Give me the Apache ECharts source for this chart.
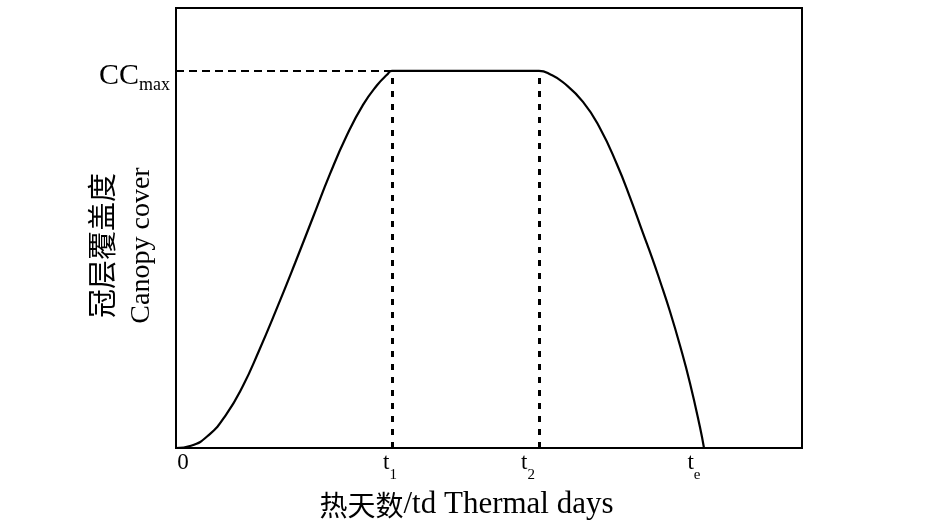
<!DOCTYPE html>
<html><head><meta charset="utf-8">
<script src="https://cdn.jsdelivr.net/npm/echarts@6/dist/echarts.min.js"></script>
<style>html,body{margin:0;padding:0;background:#fff}#c{width:945px;height:531px}</style>
</head><body><div id="c"></div>
<script>
// Thermal days (x) and canopy cover as a fraction of CCmax (y)
const thermalDays = [0, 15, 33, 50, 67, 83, 100, 119, 137, 154, 171, 187, 201, 211, 216, 290, 363, 375, 387, 407, 424, 441, 454, 467, 476, 484, 494, 504, 514, 524, 528];
const canopyCover = [0, 0.006, 0.035, 0.088, 0.165, 0.258, 0.365, 0.490, 0.612, 0.727, 0.830, 0.910, 0.962, 0.990, 1, 1, 1, 0.990, 0.970, 0.918, 0.848, 0.752, 0.665, 0.570, 0.505, 0.443, 0.362, 0.272, 0.172, 0.055, 0];
const keyTimes = [216, 363, 528];           // t1, t2, te
const ccMax = 1;
const xMax = 626;
const yMax = 1.167;
const xTickLabels = ['{m|0}', '{m|t}{s|1}', '{m|t}{s|2}', '{m|t}{s|e}'];
const xTickLabelAt = [7, 214, 352, 518];
const yTickLabel = '{m|CC}{s|max}';
const xTitleZh = '热天数';
const xTitleEn = '/td Thermal days';
const yTitleZh = '冠层覆盖度';
const yTitleEn = 'Canopy cover';

const serif = 'Liberation Serif';
const cjk = 'Noto Sans CJK SC';
const chart = echarts.init(document.getElementById('c'), null, {renderer: 'canvas'});
const curve = thermalDays.map((d, i) => [d, canopyCover[i]]);
chart.setOption({
  animation: false,
  backgroundColor: '#fff',
  grid: {left: 176, right: 143, top: 8, bottom: 83, show: true, borderColor: '#000', borderWidth: 2, backgroundColor: 'transparent'},
  xAxis: {
    type: 'value', min: 0, max: xMax,
    axisLine: {show: false}, axisTick: {show: false}, splitLine: {show: false},
    axisLabel: {
      customValues: xTickLabelAt, margin: 3,
      formatter: v => xTickLabels[xTickLabelAt.indexOf(v)] || '',
      rich: {
        m: {fontFamily: serif, fontSize: 23, lineHeight: 23, color: '#000', verticalAlign: 'top'},
        s: {fontFamily: serif, fontSize: 15, lineHeight: 15, padding: [17, 0, 0, 0], color: '#000', verticalAlign: 'top'}
      }
    },
    name: '{zh|' + xTitleZh + '}{en|' + xTitleEn + '}',
    nameLocation: 'middle', nameGap: 42, nameMoveOverlap: false,
    nameTextStyle: {
      padding: [0, 45, 0, 0],
      rich: {
        zh: {fontFamily: cjk, fontSize: 28, lineHeight: 30, color: '#000'},
        en: {fontFamily: serif, fontSize: 31, lineHeight: 30, color: '#000'}
      }
    }
  },
  yAxis: {
    type: 'value', min: 0, max: yMax,
    axisLine: {show: false}, axisTick: {show: false}, splitLine: {show: false},
    axisLabel: {
      customValues: [ccMax], margin: 6,
      formatter: () => yTickLabel,
      rich: {
        m: {fontFamily: serif, fontSize: 30, lineHeight: 30, padding: [5, 0, 0, 0], color: '#000', verticalAlign: 'top'},
        s: {fontFamily: serif, fontSize: 18, lineHeight: 18, padding: [20, 0, 0, 0], color: '#000', verticalAlign: 'top'}
      }
    },
    name: '{zh|' + yTitleZh + '}\n{en|' + yTitleEn + '}',
    nameLocation: 'middle', nameRotate: 90, nameGap: 18, nameMoveOverlap: false,
    nameTextStyle: {
      padding: [0, 35, 0, 0],
      rich: {
        zh: {fontFamily: cjk, fontSize: 29, lineHeight: 48, color: '#000'},
        en: {fontFamily: serif, fontSize: 28, lineHeight: 32, color: '#000'}
      }
    }
  },
  series: [{
    type: 'line', data: curve, smooth: 0.5, showSymbol: false, silent: true,
    lineStyle: {color: '#000', width: 2.2},
    markLine: {
      silent: true, symbol: 'none', label: {show: false}, animation: false,
      data: [
        [{coord: [0, ccMax], lineStyle: {color: '#000', width: 2, type: [8, 5]}}, {coord: [keyTimes[0], ccMax]}],
        [{coord: [keyTimes[0], 0], lineStyle: {color: '#000', width: 3, type: [6, 7]}}, {coord: [keyTimes[0], ccMax]}],
        [{coord: [keyTimes[1], 0], lineStyle: {color: '#000', width: 3, type: [6, 7]}}, {coord: [keyTimes[1], ccMax]}]
      ]
    }
  }]
});
</script></body></html>
